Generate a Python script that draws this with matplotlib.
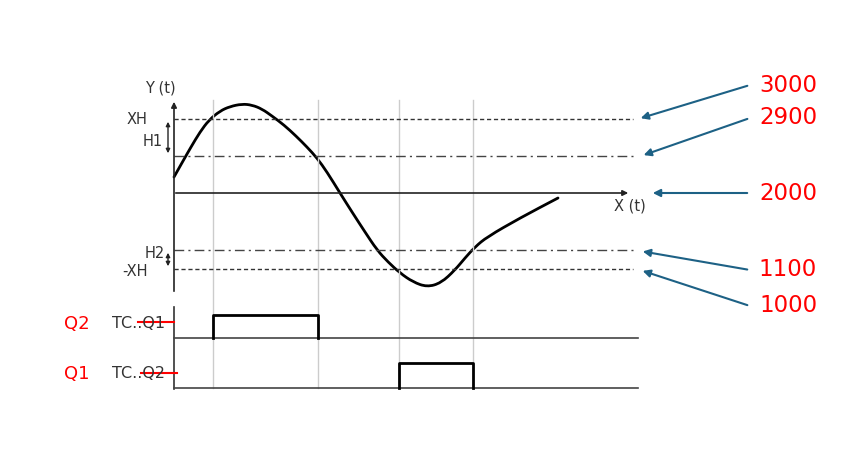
import numpy as np
import matplotlib.pyplot as plt
from matplotlib.path import Path
from matplotlib.patches import PathPatch

# diagram coordinates (pixel-like units, y grows downward)
curve_x = [174, 183, 191, 200, 209, 220, 230, 242, 252, 262, 272, 284, 296, 307, 317,
           327, 340, 352, 365, 377, 388, 400, 413, 427, 441, 455, 465, 475, 487, 520, 558]
curve_y = [177, 161, 147, 132, 120, 111, 106.5, 104, 105, 109, 116, 125, 136, 147, 158,
           172, 193, 212, 232, 250, 262, 273, 282, 287, 283, 270, 258, 247, 237, 218, 198]

levels = {'XH': 119, 'H1': 156, 'X': 193, 'H2': 250, '-XH': 269}
switch_t = [213, 318, 399, 473]

q2_pulse = (213, 318)
q1_pulse = (399, 473)
q2_base, q2_high = 338, 315
q1_base, q1_high = 388, 363

values = ['3000', '2900', '2000', '1100', '1000']
value_y = [85, 118, 193, 270, 306]
arrow_targets = [(638, 119), (641, 156), (650, 193), (640, 251), (640, 270)]

ink = '#222222'
blue = '#1d6185'

fig = plt.figure(figsize=(8.66, 4.54), dpi=100)
ax = fig.add_axes([0, 0, 1, 1])
ax.set_xlim(0, 866)
ax.set_ylim(454, 0)
ax.axis('off')

# gray switching guides
for t in switch_t:
    ax.plot([t, t], [100, 388], color='#cccccc', lw=1)

# Y axis and X axis with arrows
ax.annotate('', xy=(174, 99), xytext=(174, 294),
            arrowprops=dict(arrowstyle='-|>', color=ink, lw=1.2, mutation_scale=8))
ax.annotate('', xy=(631, 193), xytext=(173, 193),
            arrowprops=dict(arrowstyle='-|>', color=ink, lw=1.2, mutation_scale=8))

# threshold lines
ax.plot([174, 633], [levels['XH']] * 2, color='#333333', lw=1, ls=(0, (3, 2)))
ax.plot([174, 633], [levels['-XH']] * 2, color='#333333', lw=1, ls=(0, (3, 2)))
ax.plot([174, 633], [levels['H1']] * 2, color='#444444', lw=1, ls=(0, (7, 3, 1.5, 3)))
ax.plot([174, 633], [levels['H2']] * 2, color='#444444', lw=1, ls=(0, (7, 3, 1.5, 3)))

# signal, drawn as a smooth quadratic path through the read points
pts = np.column_stack([curve_x, curve_y]).astype(float)
verts = [pts[0]]
codes = [Path.MOVETO]
for i in range(1, len(pts) - 1):
    verts += [pts[i], (pts[i] + pts[i + 1]) / 2]
    codes += [Path.CURVE3, Path.CURVE3]
verts.append(pts[-1])
codes.append(Path.LINETO)
ax.add_patch(PathPatch(Path(verts, codes), fill=False, edgecolor='black', lw=2,
                       capstyle='round', joinstyle='round'))

# hysteresis arrows
ax.annotate('', xy=(168, levels['XH']), xytext=(168, levels['H1']),
            arrowprops=dict(arrowstyle='<|-|>', color=ink, lw=1, mutation_scale=6))
ax.annotate('', xy=(168, levels['H2']), xytext=(168, levels['-XH']),
            arrowprops=dict(arrowstyle='<|-|>', color=ink, lw=1, mutation_scale=6))

lab = dict(color='#333333', fontsize=10.5, ha='center', va='center')
ax.text(160, 88, 'Y (t)', **lab)
ax.text(137, 119, 'XH', **lab)
ax.text(153, 142, 'H1', **lab)
ax.text(155, 253, 'H2', **lab)
ax.text(135, 272, '-XH', **lab)
ax.text(630, 206, 'X (t)', **lab)

# output timing diagrams
ax.plot([174, 174], [307, 389], color='#333333', lw=1.2)
ax.plot([174, 638], [q2_base] * 2, color='#444444', lw=1.2)
ax.plot([174, 638], [q1_base] * 2, color='#444444', lw=1.2)
ax.plot([q2_pulse[0], q2_pulse[0], q2_pulse[1], q2_pulse[1]],
        [q2_base, q2_high, q2_high, q2_base], color='black', lw=2)
ax.plot([q1_pulse[0], q1_pulse[0], q1_pulse[1], q1_pulse[1]],
        [q1_base, q1_high, q1_high, q1_base], color='black', lw=2)

ax.text(112, 323, 'TC..Q1', color='#333333', fontsize=11.5, va='center')
ax.text(112, 373, 'TC..Q2', color='#333333', fontsize=11.5, va='center')
ax.plot([138, 174], [322, 322], color='red', lw=1.5)
ax.plot([141, 177], [373, 373], color='red', lw=1.5)
ax.text(77, 324, 'Q2', color='red', fontsize=13, ha='center', va='center')
ax.text(77, 374, 'Q1', color='red', fontsize=13, ha='center', va='center')

# value callouts
for v, y, (tx, ty) in zip(values, value_y, arrow_targets):
    ax.text(788, y, v, color='red', fontsize=16.5, ha='center', va='center')
    ax.annotate('', xy=(tx, ty), xytext=(750, y),
                arrowprops=dict(arrowstyle='-|>', color=blue, lw=1.5, mutation_scale=11))

fig.savefig('out.png', dpi=100)
